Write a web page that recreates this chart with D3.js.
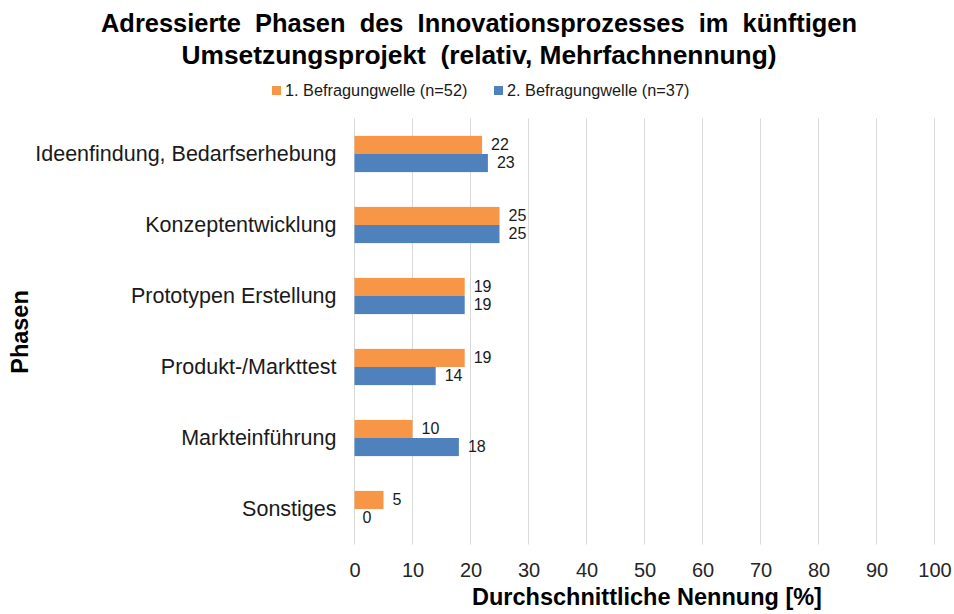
<!DOCTYPE html>
<html><head><meta charset="utf-8">
<script src="https://cdn.jsdelivr.net/npm/d3@7"></script>
<style>body{margin:0;background:#fff}text{font-family:"Liberation Sans",Arial,sans-serif}</style>
</head><body><svg id="c" width="954" height="614"></svg>
<script>
const categories = ["Ideenfindung, Bedarfserhebung","Konzeptentwicklung","Prototypen Erstellung","Produkt-/Markttest","Markteinführung","Sonstiges"];
const seriesNames = ["1. Befragungwelle (n=52)","2. Befragungwelle (n=37)"];
const wave1 = [22,25,19,19,10,5];
const wave2 = [23,25,19,14,18,0];
const xTicks = [0,10,20,30,40,50,60,70,80,90,100];
const colors = ["#F79646","#4F81BD"];

const svg = d3.select("#c");
const m = {l:354.5, r:934.5, t:118.5, b:544.5};
const x = d3.scaleLinear().domain([0,100]).range([m.l,m.r]);
const y = d3.scaleBand().domain(categories).range([m.t,m.b]).paddingInner(0.49).paddingOuter(0.245);
const y1 = d3.scaleBand().domain([0,1]).range([0,y.bandwidth()]);

// gridlines
svg.append("g").selectAll("line").data(xTicks).join("line")
  .attr("x1",d=>x(d)).attr("x2",d=>x(d)).attr("y1",m.t).attr("y2",m.b)
  .attr("stroke","#d9d9d9").attr("stroke-width",1);

// tick labels
const xa = svg.append("g").attr("transform",`translate(0,${m.b})`).call(d3.axisBottom(x).tickValues(xTicks).tickSize(0).tickPadding(18));
xa.select(".domain").remove();
xa.selectAll("text").attr("font-size",20).attr("fill","#262626").style("font-family","Liberation Sans, Arial, sans-serif");

// category labels
const ya = svg.append("g").attr("transform",`translate(${m.l},0)`).call(d3.axisLeft(y).tickSize(0).tickPadding(18));
ya.select(".domain").remove();
ya.selectAll("text").attr("font-size",21.5).attr("fill","#1a1a1a").style("font-family","Liberation Sans, Arial, sans-serif");

const series = [wave1, wave2];
series.forEach((vals,si)=>{
  const g = svg.append("g");
  g.selectAll("rect").data(vals).join("rect")
    .attr("x",x(0)).attr("y",(d,i)=>y(categories[i])+y1(si))
    .attr("width",d=>x(d)-x(0)).attr("height",y1.bandwidth())
    .attr("fill",colors[si]);
  g.selectAll("text").data(vals).join("text")
    .attr("x",d=>x(d)+(d===0?8:9)).attr("y",(d,i)=>y(categories[i])+y1(si)+y1.bandwidth()/2)
    .attr("dy","0.33em").attr("font-size",16).attr("fill","#1a1a1a").text(d=>d);
});

// title
const titleLines = [
  {t:"Adressierte  Phasen  des  Innovationsprozesses  im  künftigen", y:32, w:756},
  {t:"Umsetzungsprojekt  (relativ, Mehrfachnennung)", y:64, w:595}
];
titleLines.forEach(l=>{
  svg.append("text").attr("x",479).attr("y",l.y).attr("text-anchor","middle")
    .attr("font-weight","bold").attr("font-size",26).attr("fill","#000")
    .style("font-family","'Liberation Sans Narrow','Liberation Sans',Arial,sans-serif")
    .attr("textLength",l.w).attr("lengthAdjust","spacingAndGlyphs")
    .style("white-space","pre").text(l.t);
});

// legend
const legX = [272, 494];
seriesNames.forEach((n,i)=>{
  svg.append("rect").attr("x",legX[i]).attr("y",86).attr("width",9).attr("height",9).attr("fill",colors[i]);
  svg.append("text").attr("x",legX[i]+13).attr("y",96).attr("font-size",16.3).attr("fill","#1a1a1a").text(n);
});

// axis titles
svg.append("text").attr("x",647).attr("y",605).attr("text-anchor","middle").attr("font-weight","bold").attr("font-size",23.5).attr("fill","#000").text("Durchschnittliche Nennung [%]");
svg.append("text").attr("transform","translate(28,332) rotate(-90)").attr("text-anchor","middle").attr("font-weight","bold").attr("font-size",23.5).attr("fill","#000").text("Phasen");
</script></body></html>
